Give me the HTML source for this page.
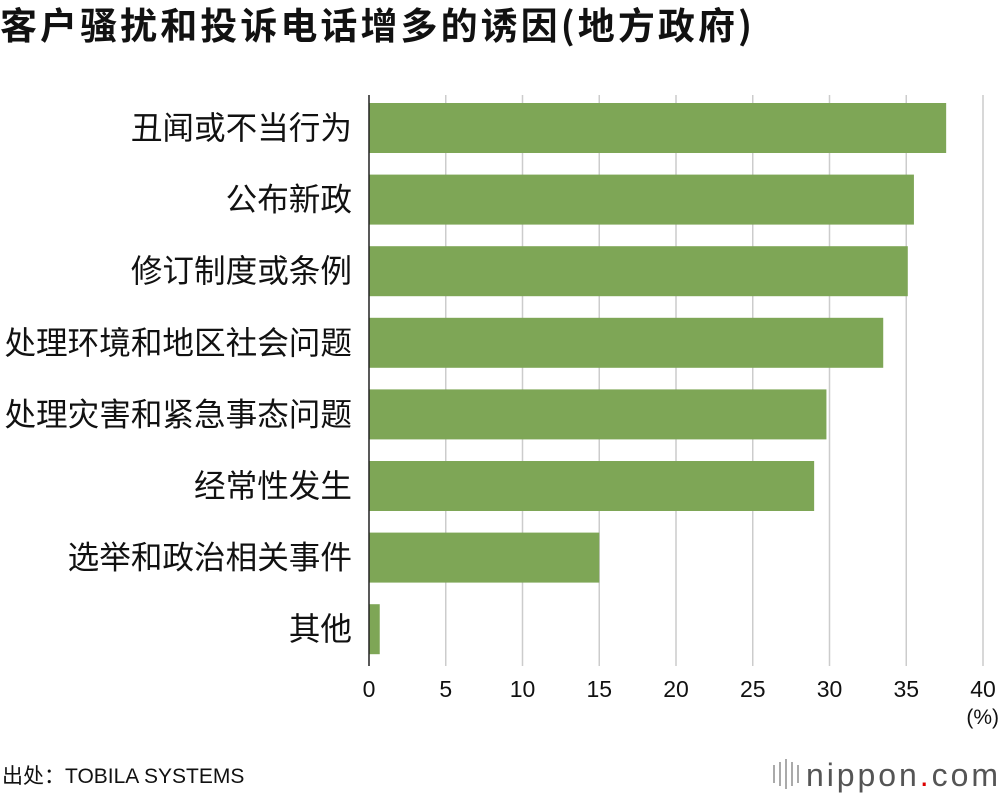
<!DOCTYPE html>
<html><head><meta charset="utf-8"><style>
body{margin:0;background:#fff;width:1000px;height:796px;overflow:hidden;font-family:"Liberation Sans","Noto Sans CJK SC",sans-serif;}
</style></head><body>
<svg width="1000" height="796" xmlns="http://www.w3.org/2000/svg" font-family="Liberation Sans, Noto Sans CJK SC, sans-serif">
<text x="0" y="39" font-size="37" font-weight="bold" fill="#111" font-family="Noto Sans CJK SC, sans-serif" textLength="752">客户骚扰和投诉电话增多的诱因(地方政府)</text>
<g id="grid"></g>
<g id="bars"></g>
<g id="ylabels"></g>
<g id="xticks"></g>
<line x1="369" y1="95" x2="369" y2="666" stroke="#222" stroke-width="1.5"/>
<text x="999" y="724" font-size="21" text-anchor="end" fill="#111">(%)</text>
<text x="2" y="783" font-size="21" fill="#111">出处：TOBILA SYSTEMS</text>
<g>
<rect x="773" y="765" width="2" height="18" fill="#aaa"/><rect x="779" y="762" width="2" height="24" fill="#aaa"/><rect x="785" y="759" width="2" height="30" fill="#aaa"/><rect x="791" y="762" width="2" height="24" fill="#aaa"/><rect x="797" y="765" width="2" height="18" fill="#aaa"/>
<text x="806" y="786" font-size="32" fill="#555" textLength="192">nippon<tspan fill="#d00">.</tspan>com</text>
</g>
</svg>
<script>
const categories=["丑闻或不当行为","公布新政","修订制度或条例","处理环境和地区社会问题","处理灾害和紧急事态问题","经常性发生","选举和政治相关事件","其他"];
const values=[37.6,35.5,35.1,33.5,29.8,29.0,15.0,0.7];
const xTicks=[0,5,10,15,20,25,30,35,40];
const NS="http://www.w3.org/2000/svg";
const x=v=>369+v*(983-369)/40;
const y=i=>103+i*71.6;
function mk(t,a,p){const e=document.createElementNS(NS,t);for(const k in a)e.setAttribute(k,a[k]);p.appendChild(e);return e;}
const grid=document.getElementById('grid'),bars=document.getElementById('bars'),yl=document.getElementById('ylabels'),xt=document.getElementById('xticks');
xTicks.forEach(t=>{
 if(t>0){const g=mk('line',{x1:x(t),x2:x(t),y1:95,y2:666,stroke:'#ccc','stroke-width':1.5},grid);
 
 }
 const l=mk('text',{x:x(t),y:697,'font-size':23,'text-anchor':'middle',fill:'#111'},xt);l.textContent=t;
 
 
});
categories.forEach((c,i)=>{
 const r=mk('rect',{x:x(0),y:y(i),width:x(values[i])-x(0),height:50,fill:'#7ea656'},bars);
 
 
 const t=mk('text',{x:352,y:y(i)+36,'font-size':31.6,'text-anchor':'end',fill:'#111'},yl);t.textContent=c;
 
 
});
</script>
</body></html>
